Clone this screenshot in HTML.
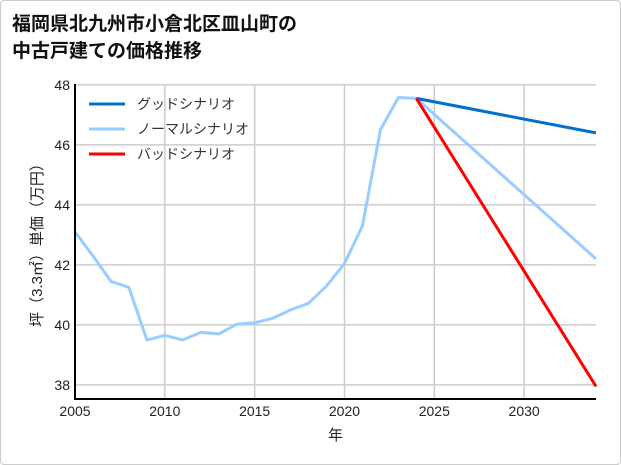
<!DOCTYPE html>
<html><head><meta charset="utf-8"><style>
html,body{margin:0;padding:0;background:#fff}
#frame{position:absolute;left:0;top:0;width:619px;height:463px;border:1px solid #ccc;border-radius:4px}
svg text{font-family:"Liberation Sans","Noto Sans CJK JP",sans-serif}
</style></head><body>
<div id="frame"></div>
<svg id="c" width="621" height="465" style="position:absolute;left:0;top:0">
<text x="12" y="30" font-size="19" font-weight="bold" fill="#111">福岡県北九州市小倉北区皿山町の</text>
<text x="12" y="57" font-size="19" font-weight="bold" fill="#111">中古戸建ての価格推移</text>
</svg>
<script>
const years=[2005,2006,2007,2008,2009,2010,2011,2012,2013,2014,2015,2016,2017,2018,2019,2020,2021,2022,2023,2024,2034];
const normal=[43.1,42.3,41.45,41.25,39.5,39.65,39.5,39.75,39.7,40.02,40.07,40.22,40.5,40.72,41.3,42.05,43.3,46.5,47.58,47.55,42.2];
const goodYears=[2024,2034];const good=[47.55,46.4];
const badYears=[2024,2034];const bad=[47.55,37.95];
const xTicks=[2005,2010,2015,2020,2025,2030];
const yTicks=[38,40,42,44,46,48];
const L=75,R=596,T=84,B=399,X0=2005,X1=2034,Y0=37.53,Y1=48.03;
const sx=v=>L+(v-X0)/(X1-X0)*(R-L), sy=v=>B-(v-Y0)/(Y1-Y0)*(B-T);
const svg=document.getElementById('c');const NS='http://www.w3.org/2000/svg';
function mk(t,a){const e=document.createElementNS(NS,t);for(const k in a)e.setAttribute(k,a[k]);svg.appendChild(e);return e;}
xTicks.forEach(v=>{const l=mk('line',{x1:sx(v),x2:sx(v),y1:T,y2:B,stroke:'#ccc','stroke-width':1.5});


const t=mk('text',{x:sx(v),y:B+17,'font-size':14,'text-anchor':'middle',fill:'#222'});t.textContent=v;

});
yTicks.forEach(v=>{const l=mk('line',{x1:L,x2:R,y1:sy(v),y2:sy(v),stroke:'#ccc','stroke-width':1.5});


const t=mk('text',{x:L-5,y:sy(v)+5,'font-size':14,'text-anchor':'end',fill:'#222'});t.textContent=v;

});
function line(xs,ys,col,name){const p=mk('polyline',{points:xs.map((x,i)=>sx(x)+','+sy(ys[i])).join(' '),fill:'none',stroke:col,'stroke-width':3,'stroke-linejoin':'round'});

}
line(years,normal,'#99ccff','normal-scenario-line');
line(goodYears,good,'#0070cc','good-scenario-line');
line(badYears,bad,'#ff0000','bad-scenario-line');
const ax=mk('path',{d:`M${L} ${T} V${B} H${R}`,fill:'none',stroke:'#000','stroke-width':2});


const xt=mk('text',{x:(L+R)/2,y:440,'font-size':15,'text-anchor':'middle',fill:'#222'});xt.textContent='年';


const yt=mk('text',{x:0,y:0,'font-size':15,'text-anchor':'middle',fill:'#222',transform:`translate(42,${(T+B)/2}) rotate(-90)`});yt.textContent='坪（3.3㎡）単価（万円）';


const leg=[['グッドシナリオ','#0070cc'],['ノーマルシナリオ','#99ccff'],['バッドシナリオ','#ff0000']];
leg.forEach((d,i)=>{const y=104+i*25;const g=mk('line',{x1:89,x2:125,y1:y,y2:y,stroke:d[1],'stroke-width':3});


const t=mk('text',{x:137,y:y+5,'font-size':14,fill:'#333'});t.textContent=d[0];

});
</script>
</body></html>
